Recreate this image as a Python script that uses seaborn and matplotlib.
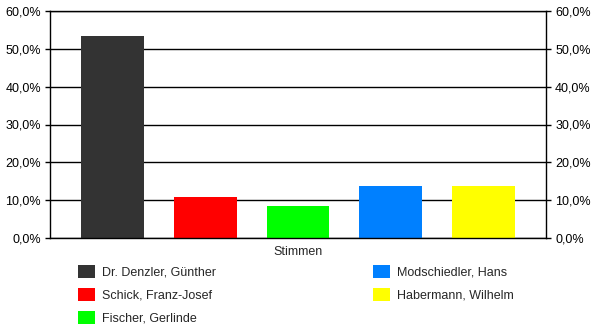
import matplotlib
matplotlib.use("Agg")
import matplotlib.pyplot as plt
import matplotlib.patches as mpatches
from matplotlib.ticker import FuncFormatter, MultipleLocator
import seaborn as sns
import pandas as pd

# Stimmenanteile der Kandidaten
kandidaten = ["Dr. Denzler, Günther", "Schick, Franz-Josef", "Fischer, Gerlinde",
              "Modschiedler, Hans", "Habermann, Wilhelm"]
anteile = [53.4, 10.8, 8.5, 13.8, 13.8]
farben = ["#333333", "#FF0000", "#00FF00", "#0080FF", "#FFFF00"]
kategorie = "Stimmen"

sns.set_style("white")
plt.rcParams["font.family"] = ["Liberation Sans", "DejaVu Sans"]
plt.rcParams["font.size"] = 9

df = pd.DataFrame({"Kandidat": kandidaten, "Anteil": anteile})

fig = plt.figure(figsize=(6.0, 3.33), dpi=100)
ax = fig.add_axes([50 / 600, 1 - 238 / 333, 496 / 600, 227 / 333])

sns.barplot(data=df, x="Kandidat", y="Anteil", hue="Kandidat",
            palette=farben, width=0.677, legend=False, ax=ax,
            saturation=1, linewidth=0)

xmin, xmax = -0.672, 4.672
ax.set_xlim(xmin, xmax)
ax.set_ylim(0, 60)
ax.yaxis.set_major_locator(MultipleLocator(10))
ax.yaxis.set_major_formatter(FuncFormatter(lambda v, p: f"{v:.1f}%".replace(".", ",")))
ax.grid(axis="y", color="black", linewidth=1)
ax.set_axisbelow(True)

for s in ax.spines.values():
    s.set_color("black")
    s.set_linewidth(1)
    s.set_visible(True)

ax.yaxis.set_ticks_position("both")
ax.tick_params(axis="y", which="major", direction="out", length=3.6, width=1,
               color="black", labelright=True, labelleft=True, pad=3,
               labelsize=9, labelcolor="black")
ax.set_xticks([xmin, xmax])
ax.set_xticklabels(["", ""])
ax.tick_params(axis="x", direction="out", length=8, width=1, color="black")
ax.set_xlabel("")
ax.set_ylabel("")

fig.text(298 / 600, 1 - 252 / 333, kategorie, ha="center", va="center", fontsize=9)

handles = [mpatches.Patch(facecolor=c, edgecolor="none", label=k)
           for k, c in zip(kandidaten, farben)]
fig.legend(handles=handles, ncol=2, loc="upper left",
           bbox_to_anchor=(78 / 600, 1 - 265 / 333), frameon=False,
           handlelength=1.36, handleheight=1.28, handletextpad=0.56,
           labelspacing=0.71, columnspacing=12.55, fontsize=9,
           borderaxespad=0, borderpad=0)

fig.savefig("out.png", dpi=100, facecolor="white")
